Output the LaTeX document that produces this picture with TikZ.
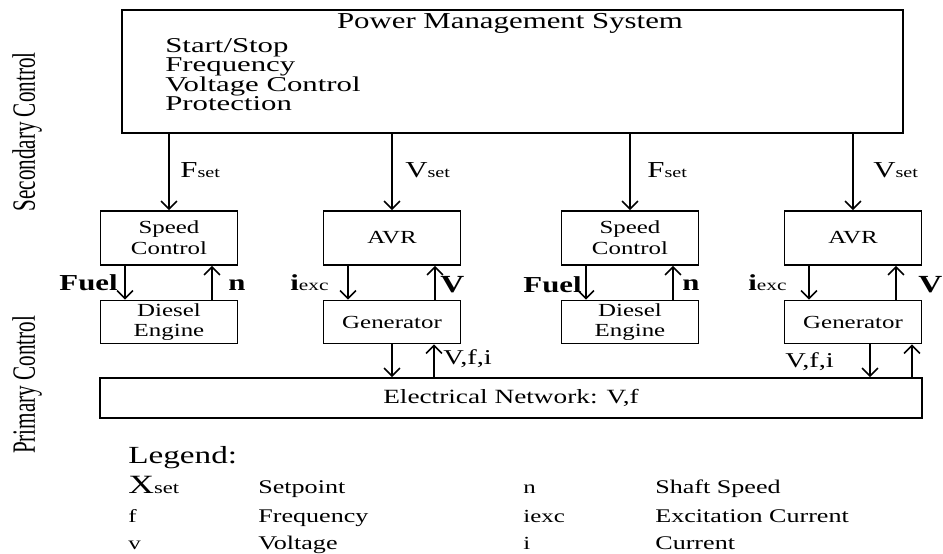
\documentclass[tikz,border=0pt]{standalone}
\usepackage{fontspec}
\setmainfont{Liberation Serif}[FakeStretch=1.35]
\newfontfamily\sidefont{Liberation Serif}[FakeStretch=0.65]
\newfontfamily\taskfont{Liberation Serif}[FakeStretch=1.46]
\usetikzlibrary{arrows.meta,calc}

\newcommand{\xsub}[2]{{\fontsize{13}{13}\selectfont #1}{\fontsize{8.5}{8.5}\selectfont #2}}
\newcommand{\fs}[1]{\fontsize{#1}{#1}\selectfont}
\newcommand{\tasklist}{\taskfont\fontsize{12}{11.1}\selectfont\setlength{\lineskiplimit}{-6pt}}

\begin{document}
\begin{tikzpicture}[x=0.02cm,y=-0.02cm,
  >={Straight Barb[length=4.5pt,width=9pt]},
  box/.style={draw,line width=1.1pt,inner sep=1pt,align=center},
  upper/.style={box,minimum width=2.74cm,minimum height=1.08cm,font=\fontsize{10.5}{12}\selectfont},
  lower/.style={box,minimum width=2.74cm,minimum height=0.86cm,font=\fontsize{10.5}{11.5}\selectfont},
  lab/.style={inner sep=0pt,anchor=base west},
  sig/.style={->,line width=0.9pt}]
\useasboundingbox (0,0) rectangle (943,554);

% side titles
\node[rotate=90,font=\sidefont\fs{18.5}] (sec) at (27,132) {Secondary Control};
\node[rotate=90,font=\sidefont\fs{18.5}] (pri) at (27,385) {Primary Control};

% power management system
\node[box,minimum width=15.62cm,minimum height=2.46cm] (pms) at (512.5,71.5) {};
\node[lab,anchor=base,font=\fs{13}] (title) at (510,29) {Power Management System};
\node[inner sep=0pt,anchor=north west,align=left,font=\tasklist] (tasks) at (165,38)
  {Start/Stop\\Frequency\\Voltage Control\\Protection};

% controllers and plants
\node[upper] (sc1) at (169,238) {Speed\\Control};
\node[upper] (avr1) at (392,238) {AVR};
\node[upper] (sc2) at (630,238) {Speed\\Control};
\node[upper] (avr2) at (853,238) {AVR};

\node[lower] (de1) at (169,322) {Diesel\\Engine};
\node[lower] (gen1) at (392,322) {Generator};
\node[lower] (de2) at (630,322) {Diesel\\Engine};
\node[lower] (gen2) at (853,322) {Generator};

\node[box,minimum width=16.44cm,minimum height=0.8cm,font=\fs{11.5}] (net) at (511,398) {Electrical Network: V,f};

% setpoints
\foreach \b in {sc1,avr1,sc2,avr2}
  \draw[sig] (pms.south -| \b.north) -- (\b.north);
\node[lab] (fset1) at (180,177) {\xsub{F}{set}};
\node[lab] (vset1) at (405,177) {\xsub{V}{set}};
\node[lab] (fset2) at (647,177) {\xsub{F}{set}};
\node[lab] (vset2) at (873,177) {\xsub{V}{set}};

% inner loops
\foreach \c/\p in {sc1/de1,sc2/de2,avr1/gen1,avr2/gen2} {
  \draw[sig] ($(\c.south)+(-44,0)$) -- ($(\p.north)+(-44,0)$);
  \draw[sig] ($(\p.north)+(43,0)$) -- ($(\c.south)+(43,0)$);
}
\node[lab,anchor=base east,font=\bfseries\fs{13}] (fuel1) at (118,290) {Fuel};
\node[lab,font=\bfseries\fs{13}] (n1) at (228,290) {n};
\node[lab,anchor=base east,font=\bfseries\fs{13}] (fuel2) at (582,292) {Fuel};
\node[lab,font=\bfseries\fs{13}] (n2) at (682,290) {n};
\node[lab] (iexc1) at (290,290) {{\bfseries\fs{13}i}{\fs{9}exc}};
\node[lab,font=\bfseries\fs{14}] (v1) at (440,292) {V};
\node[lab] (iexc2) at (748,290) {{\bfseries\fs{13}i}{\fs{9}exc}};
\node[lab,font=\bfseries\fs{14}] (v2) at (918,292) {V};

% network connections
\draw[sig] (gen1.south) -- (gen1.south |- net.north);
\draw[sig] ($(gen1.south |- net.north)+(42,0)$) -- ($(gen1.south)+(42,0)$);
\draw[sig] ($(gen2.south)+(17,0)$) -- ($(gen2.south |- net.north)+(17,0)$);
\draw[sig] ($(gen2.south |- net.north)+(59,0)$) -- ($(gen2.south)+(59,0)$);
\node[lab,font=\fs{12}] (vfi1) at (443,364) {V,f,i};
\node[lab,font=\fs{12}] (vfi2) at (785,367) {V,f,i};

% legend
\node[lab,font=\fs{14}] (leg) at (128,463) {Legend:};
\node[lab] (k1) at (128,493) {{\fs{15}X}{\fs{9.5}set}};
\node[lab,font=\fs{11}] (d1) at (258,493) {Setpoint};
\node[lab,font=\fs{10.5}] (k2) at (523,493) {n};
\node[lab,font=\fs{11}] (d2) at (655,493) {Shaft Speed};
\node[lab,font=\fs{10.5}] (k3) at (128,522) {f};
\node[lab,font=\fs{11}] (d3) at (258,522) {Frequency};
\node[lab,font=\fs{10.5}] (k4) at (523,522) {iexc};
\node[lab,font=\fs{11}] (d4) at (655,522) {Excitation Current};
\node[lab,font=\fs{10.5}] (k5) at (128,549) {v};
\node[lab,font=\fs{11}] (d5) at (258,549) {Voltage};
\node[lab,font=\fs{10.5}] (k6) at (523,549) {i};
\node[lab,font=\fs{11}] (d6) at (655,549) {Current};
\end{tikzpicture}
\end{document}
